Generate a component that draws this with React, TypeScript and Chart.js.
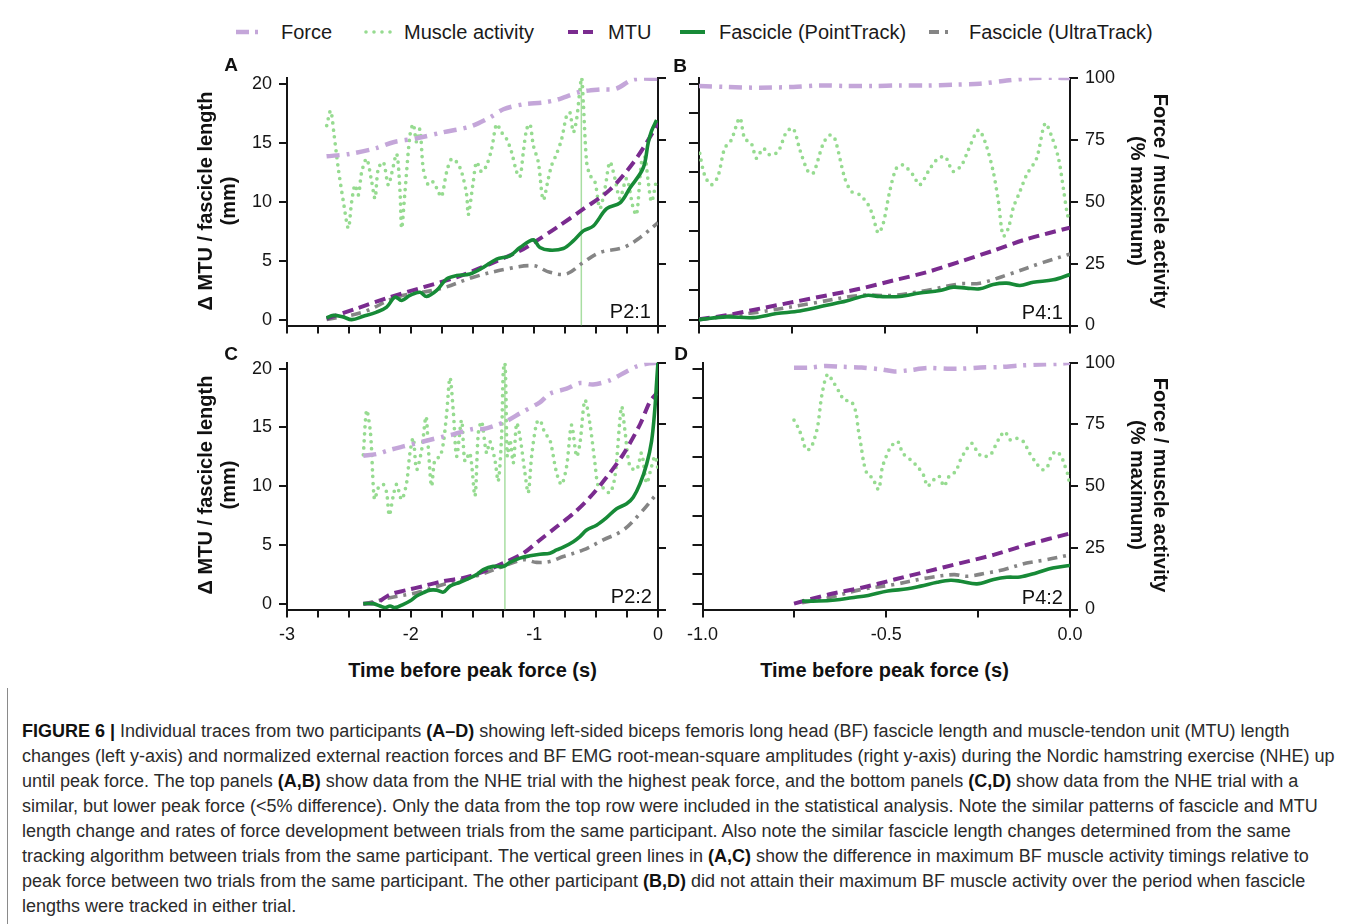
import React, { useEffect, useRef } from 'react';
import { Chart, registerables } from 'chart.js';
Chart.register(...registerables);

const FONT = "'Liberation Sans', Arial, Helvetica, sans-serif";

// ---------- Axis ticks ----------
const X_TICKS_AC = [-3, -2.75, -2.5, -2.25, -2, -1.75, -1.5, -1.25, -1, -0.75, -0.5, -0.25, 0];
const X_LABELS_AC = ['-3', '', '', '', '-2', '', '', '', '-1', '', '', '', '0'];
const X_TICKS_BD = [-1, -0.75, -0.5, -0.25, 0];
const X_LABELS_BD = ['-1.0', '', '-0.5', '', '0.0'];
const Y_MM_TICKS = [0, 5, 10, 15, 20];
const Y_MM_LABELS = ['0', '5', '10', '15', '20'];
const Y_MM_MINOR_TICKS = [0, 2.5, 5, 7.5, 10, 12.5, 15, 17.5, 20];
const Y_PCT_TICKS = [0, 25, 50, 75, 100];
const Y_PCT_LABELS = ['0', '25', '50', '75', '100'];

// ---------- Panel A (P2:1) ----------
const A_FORCE_T = [-2.68, -2.49, -2.28, -2.14, -1.95, -1.74, -1.52, -1.36, -1.25, -1.09, -0.93, -0.82, -0.63, -0.47, -0.34, -0.2, 0];
const A_FORCE = [68.3, 69.3, 71.6, 74.0, 75.6, 78.0, 80.3, 84.0, 87.3, 89.3, 90.0, 91.1, 94.3, 95.3, 95.6, 99.3, 99.6];
const A_EMG_T = [-2.679, -2.647, -2.62, -2.585, -2.544, -2.504, -2.477, -2.45, -2.423, -2.396, -2.356, -2.315, -2.288, -2.262, -2.221, -2.181, -2.154, -2.113, -2.086, -2.073, -2.046, -2.006, -1.979, -1.952, -1.925, -1.898, -1.857, -1.817, -1.777, -1.75, -1.709, -1.669, -1.628, -1.588, -1.547, -1.534, -1.494, -1.467, -1.426, -1.386, -1.345, -1.305, -1.265, -1.224, -1.184, -1.143, -1.116, -1.089, -1.062, -1.035, -1.008, -0.968, -0.928, -0.887, -0.86, -0.82, -0.779, -0.739, -0.712, -0.685, -0.658, -0.618, -0.604, -0.577, -0.55, -0.51, -0.47, -0.429, -0.389, -0.348, -0.308, -0.254, -0.2, -0.173, -0.133, -0.106, -0.079, -0.052, -0.011];
const A_EMG = [80.7, 86.7, 77.3, 63.3, 50.0, 39.3, 50.0, 56.7, 52.7, 62.0, 67.3, 58.0, 51.3, 63.3, 66.0, 56.7, 61.3, 69.3, 54.0, 39.3, 54.0, 76.7, 81.3, 74.0, 79.3, 63.3, 56.7, 58.0, 54.0, 52.0, 62.0, 67.3, 66.0, 62.0, 52.7, 44.7, 58.0, 66.0, 62.0, 64.7, 71.3, 81.3, 78.0, 75.3, 70.0, 62.0, 60.0, 70.0, 79.3, 81.3, 72.7, 66.0, 50.7, 59.3, 64.7, 69.3, 75.3, 84.7, 86.0, 78.0, 83.3, 100, 90.0, 66.0, 60.7, 58.0, 47.3, 55.3, 66.0, 59.3, 51.3, 59.3, 47.3, 44.7, 66.0, 68.0, 58.0, 50.0, 59.3];
const A_MTU_T = [-2.68, -2.44, -2.17, -1.9, -1.63, -1.36, -1.09, -0.98, -0.82, -0.6, -0.39, -0.2, -0.04, 0];
const A_MTU = [0.08, 0.93, 1.9, 2.74, 3.59, 4.71, 5.97, 6.7, 7.8, 9.4, 11.0, 13.3, 15.9, 16.7];
const A_PT_T = [-2.68, -2.625, -2.545, -2.477, -2.383, -2.275, -2.194, -2.127, -2.073, -2.006, -1.925, -1.871, -1.79, -1.709, -1.628, -1.521, -1.413, -1.305, -1.197, -1.116, -1.008, -0.955, -0.874, -0.766, -0.685, -0.604, -0.523, -0.415, -0.307, -0.227, -0.12, -0.079, -0.052, -0.011];
const A_PT = [0.14, 0.36, 0.22, 0.0, 0.28, 0.64, 1.06, 1.9, 1.62, 2.05, 2.32, 1.96, 2.47, 3.45, 3.73, 3.87, 4.43, 5.13, 5.41, 6.11, 6.76, 6.11, 5.89, 6.03, 6.67, 7.52, 7.94, 9.4, 9.9, 11.16, 12.85, 15.0, 16.0, 16.92];
const A_UT_T = [-2.68, -2.383, -2.113, -1.763, -1.494, -1.224, -1.008, -0.874, -0.739, -0.604, -0.47, -0.281, -0.146, 0];
const A_UT = [0, 0.64, 1.9, 2.61, 3.59, 4.29, 4.57, 4.01, 3.87, 4.85, 5.69, 6.11, 6.95, 8.22];
const A_EMG_MAX_T = -0.62;

// ---------- Panel B (P4:1) ----------
const B_FORCE_T = [-1, -0.926, -0.836, -0.746, -0.674, -0.603, -0.531, -0.459, -0.387, -0.315, -0.243, -0.171, -0.099, -0.045, 0];
const B_FORCE = [96.7, 96.3, 96.0, 96.3, 96.9, 96.7, 96.7, 96.9, 96.9, 97.2, 97.6, 98.9, 99.9, 100, 99.9];
const B_EMG_T = [-0.998, -0.985, -0.967, -0.949, -0.931, -0.913, -0.89, -0.877, -0.859, -0.845, -0.827, -0.809, -0.787, -0.764, -0.746, -0.728, -0.706, -0.692, -0.665, -0.647, -0.634, -0.607, -0.589, -0.567, -0.544, -0.531, -0.517, -0.504, -0.486, -0.468, -0.45, -0.423, -0.405, -0.382, -0.36, -0.337, -0.315, -0.292, -0.274, -0.247, -0.229, -0.207, -0.193, -0.18, -0.166, -0.153, -0.135, -0.117, -0.09, -0.067, -0.049, -0.031, -0.018, -0.007, 0];
const B_EMG = [69.5, 60.8, 56.8, 60.2, 71.5, 74.9, 83.8, 75.5, 73.5, 67.5, 71.5, 68.9, 70.2, 78.2, 79.5, 70.9, 62.2, 61.5, 73.5, 76.9, 75.5, 59.5, 54.1, 52.8, 48.8, 44.1, 37.4, 40.8, 54.1, 63.5, 64.8, 60.8, 56.8, 62.2, 66.8, 68.2, 62.2, 64.8, 70.9, 78.9, 74.2, 62.2, 50.1, 36.1, 39.4, 47.5, 54.1, 60.8, 67.5, 81.6, 76.2, 67.5, 55.5, 44.8, 42.1];
const B_MTU_T = [-1, -0.926, -0.836, -0.746, -0.656, -0.567, -0.477, -0.387, -0.297, -0.207, -0.117, 0];
const B_MTU = [0.03, 0.37, 0.93, 1.49, 2.05, 2.61, 3.31, 4.01, 4.91, 5.84, 6.82, 7.8];
const B_PT_T = [-1, -0.926, -0.854, -0.791, -0.728, -0.656, -0.603, -0.549, -0.513, -0.459, -0.405, -0.351, -0.315, -0.279, -0.243, -0.207, -0.171, -0.135, -0.099, -0.045, 0];
const B_PT = [0.0, 0.23, 0.17, 0.51, 0.73, 1.21, 1.57, 2.05, 1.96, 1.96, 2.25, 2.47, 2.75, 2.67, 2.61, 2.98, 3.09, 2.89, 3.17, 3.37, 3.82];
const B_UT_T = [-1, -0.836, -0.701, -0.567, -0.477, -0.387, -0.297, -0.243, -0.162, -0.072, 0];
const B_UT = [0, 0.65, 1.35, 2.05, 2.05, 2.47, 3.03, 3.09, 3.87, 4.85, 5.56];

// ---------- Panel C (P2:2) ----------
const C_FORCE_T = [-2.383, -2.275, -2.167, -2.059, -1.898, -1.736, -1.655, -1.494, -1.413, -1.305, -1.224, -1.116, -0.955, -0.874, -0.739, -0.631, -0.524, -0.389, -0.254, -0.173, -0.092, 0];
const C_FORCE = [62.3, 63, 64.7, 66.1, 68.1, 70.1, 71, 73.2, 73.2, 74.8, 76.4, 79.5, 84, 87.5, 89.5, 91.8, 91.2, 92.9, 96.5, 98.5, 99.6, 100];
const C_EMG_T = [-2.383, -2.356, -2.329, -2.316, -2.308, -2.297, -2.289, -2.262, -2.221, -2.194, -2.173, -2.141, -2.114, -2.073, -2.033, -2.006, -1.979, -1.952, -1.911, -1.876, -1.857, -1.831, -1.804, -1.763, -1.736, -1.709, -1.682, -1.655, -1.628, -1.588, -1.561, -1.521, -1.48, -1.453, -1.426, -1.386, -1.359, -1.319, -1.292, -1.265, -1.251, -1.238, -1.23, -1.219, -1.197, -1.17, -1.143, -1.116, -1.076, -1.049, -1.022, -0.982, -0.955, -0.914, -0.874, -0.82, -0.78, -0.739, -0.699, -0.658, -0.631, -0.591, -0.551, -0.51, -0.483, -0.443, -0.389, -0.348, -0.295, -0.268, -0.227, -0.173, -0.133, -0.092, -0.052, -0.025, 0];
const C_EMG = [62.7, 80.8, 73.5, 64.8, 55.4, 46.0, 44.6, 49.3, 50.7, 47.3, 38.2, 46.0, 50.7, 44.6, 51.3, 63.4, 69.5, 56.7, 64.8, 78.2, 65.4, 50.0, 60.7, 62.1, 67.4, 79.5, 94.0, 80.2, 62.1, 76.8, 60.1, 63.4, 46.0, 71.5, 76.2, 63.4, 68.1, 60.7, 52.0, 70.1, 96.9, 100, 88.9, 62.1, 68.8, 59.4, 75.5, 70.1, 55.4, 47.3, 62.1, 75.5, 76.8, 71.5, 68.8, 55.4, 50.7, 58.0, 74.8, 62.1, 67.4, 84.9, 75.5, 59.4, 50.0, 49.3, 47.3, 54.0, 82.2, 72.8, 58.0, 56.7, 63.4, 51.3, 58.0, 62.1, 57.0];
const C_MTU_T = [-2.383, -2.275, -2.167, -2.032, -1.898, -1.736, -1.574, -1.44, -1.251, -1.089, -0.955, -0.82, -0.685, -0.55, -0.416, -0.281, -0.146, -0.065, -0.011];
const C_MTU = [0, 0.08, 0.78, 1.15, 1.49, 1.91, 2.19, 2.61, 3.45, 4.29, 5.42, 6.54, 7.66, 9.06, 10.75, 12.71, 15.24, 17.2, 17.9];
const C_PT_T = [-2.383, -2.302, -2.248, -2.208, -2.167, -2.127, -2.059, -2.006, -1.952, -1.898, -1.844, -1.79, -1.736, -1.682, -1.601, -1.52, -1.467, -1.413, -1.332, -1.251, -1.197, -1.116, -1.035, -0.955, -0.874, -0.82, -0.766, -0.685, -0.631, -0.577, -0.497, -0.416, -0.335, -0.254, -0.2, -0.146, -0.092, -0.052, -0.025, -0.011, 0];
const C_PT = [0, 0, -0.2, -0.34, -0.2, -0.34, -0.06, 0.22, 0.65, 0.93, 1.15, 1.15, 0.98, 1.49, 1.82, 2.19, 2.47, 2.89, 3.17, 3.17, 3.51, 3.87, 4.07, 4.21, 4.29, 4.57, 4.8, 5.27, 5.7, 6.26, 6.68, 7.32, 8.08, 8.5, 9.06, 10.19, 11.87, 13.83, 16.64, 18.88, 20.57];
const C_UT_T = [-2.383, -2.167, -1.952, -1.736, -1.494, -1.251, -1.089, -0.982, -0.874, -0.766, -0.604, -0.443, -0.281, -0.146, 0];
const C_UT = [-0.06, 0.5, 0.93, 1.63, 2.27, 3.17, 3.73, 3.51, 3.59, 4.01, 4.57, 5.42, 6.26, 7.66, 9.48];
const C_EMG_MAX_T = -1.238;

// ---------- Panel D (P4:2) ----------
const D_FORCE_T = [-0.751, -0.711, -0.666, -0.621, -0.567, -0.513, -0.478, -0.442, -0.388, -0.334, -0.298, -0.244, -0.19, -0.136, -0.083, -0.029, 0];
const D_FORCE = [98.0, 98.0, 98.7, 98.4, 98.1, 97.3, 96.5, 96.9, 97.9, 97.6, 97.6, 98.1, 98.3, 98.9, 99.3, 99.6, 100];
const D_EMG_T = [-0.751, -0.738, -0.727, -0.718, -0.706, -0.695, -0.686, -0.675, -0.66, -0.644, -0.628, -0.614, -0.596, -0.583, -0.576, -0.569, -0.561, -0.551, -0.538, -0.521, -0.511, -0.5, -0.487, -0.469, -0.455, -0.434, -0.413, -0.397, -0.388, -0.37, -0.356, -0.343, -0.329, -0.311, -0.298, -0.285, -0.267, -0.253, -0.24, -0.217, -0.204, -0.19, -0.177, -0.163, -0.145, -0.127, -0.11, -0.092, -0.075, -0.063, -0.051, -0.038, -0.024, -0.015, -0.006, 0];
const D_EMG = [76.8, 73.2, 68.8, 64.7, 65.4, 69.4, 74.8, 87.1, 95.3, 92.2, 88.2, 84.9, 84.5, 80.2, 72.8, 66.8, 59.4, 54.7, 53.4, 48.7, 57.4, 62.1, 66.1, 68.1, 63.4, 60.7, 57.6, 54.0, 50.0, 52.7, 54.0, 50.0, 54.0, 56.0, 60.7, 64.1, 67.4, 64.1, 62.1, 62.7, 66.1, 70.1, 72.1, 68.8, 69.4, 68.1, 63.4, 59.4, 56.7, 57.4, 62.1, 64.1, 62.1, 58.7, 54.7, 50.0];
const D_MTU_T = [-0.751, -0.657, -0.567, -0.478, -0.388, -0.298, -0.208, -0.118, 0];
const D_MTU = [0.0, 0.78, 1.35, 2.05, 2.75, 3.45, 4.15, 5.0, 5.98];
const D_PT_T = [-0.729, -0.684, -0.639, -0.594, -0.549, -0.496, -0.442, -0.406, -0.361, -0.325, -0.298, -0.253, -0.208, -0.172, -0.136, -0.092, -0.047, 0];
const D_PT = [0.22, 0.22, 0.31, 0.5, 0.7, 1.07, 1.26, 1.49, 1.82, 1.99, 1.91, 1.68, 2.05, 2.24, 2.27, 2.61, 3.03, 3.25];
const D_UT_T = [-0.729, -0.657, -0.567, -0.478, -0.388, -0.316, -0.28, -0.226, -0.181, -0.118, -0.065, 0];
const D_UT = [0.08, 0.5, 1.21, 1.63, 2.19, 2.47, 2.33, 2.61, 2.89, 3.45, 3.73, 4.15];

// ---------- Text ----------
const LEGEND_ITEMS = ['Force', 'Muscle activity', 'MTU', 'Fascicle (PointTrack)', 'Fascicle (UltraTrack)'];
const X_TITLE = 'Time before peak force (s)';
const Y_LEFT_TITLE = ['Δ MTU / fascicle length', '(mm)'];
const Y_RIGHT_TITLE = ['Force / muscle activity', '(% maximum)'];
const CAPTION_LINES = [
  '**FIGURE 6 |** Individual traces from two participants **(A–D)** showing left-sided biceps femoris long head (BF) fascicle length and muscle-tendon unit (MTU) length',
  'changes (left y-axis) and normalized external reaction forces and BF EMG root-mean-square amplitudes (right y-axis) during the Nordic hamstring exercise (NHE) up',
  'until peak force. The top panels **(A,B)** show data from the NHE trial with the highest peak force, and the bottom panels **(C,D)** show data from the NHE trial with a',
  'similar, but lower peak force (<5% difference). Only the data from the top row were included in the statistical analysis. Note the similar patterns of fascicle and MTU',
  'length change and rates of force development between trials from the same participant. Also note the similar fascicle length changes determined from the same',
  'tracking algorithm between trials from the same participant. The vertical green lines in **(A,C)** show the difference in maximum BF muscle activity timings relative to',
  'peak force between two trials from the same participant. The other participant **(B,D)** did not attain their maximum BF muscle activity over the period when fascicle',
  'lengths were tracked in either trial.',
];

// ---------- Styles ----------
const COL_FORCE = '#c4a6d9';
const COL_EMG = '#96db90';
const COL_MTU = '#7a2b8f';
const COL_PT = '#178a37';
const COL_UT = '#858585';
const COL_VLINE = '#a8dea2';
const AXIS = '#151515';

type Pt = { x: number; y: number };
const zip = (t: number[], v: number[]): Pt[] => t.map((x, i) => ({ x, y: v[i] }));
const labelFor = (ticks: number[], labels: string[], v: number) => {
  const i = ticks.findIndex((t) => Math.abs(t - v) < 1e-9);
  return i >= 0 ? labels[i] : '';
};

interface Panel {
  key: string;
  left: number; top: number; width: number; height: number;
  leftW: number; rightW: number; padTop: number; xH: number;
  xMin: number; xMax: number; xTicks: number[]; xLabels: string[] | null;
  yLTicks: number[]; yLLabels: string[] | null; yLTickLen: number;
  yRLabels: string[] | null;
  force: Pt[]; emg: Pt[]; mtu: Pt[]; pt: Pt[]; ut: Pt[]; vline: number | null;
}

const PANELS: Panel[] = [
  {
    key: 'A', left: 235, top: 60, width: 445, height: 285, leftW: 52, rightW: 22, padTop: 15.5, xH: 19.5,
    xMin: -3, xMax: 0, xTicks: X_TICKS_AC, xLabels: null, yLTicks: Y_MM_TICKS, yLLabels: Y_MM_LABELS, yLTickLen: 8, yRLabels: null,
    force: zip(A_FORCE_T, A_FORCE), emg: zip(A_EMG_T, A_EMG), mtu: zip(A_MTU_T, A_MTU), pt: zip(A_PT_T, A_PT), ut: zip(A_UT_T, A_UT), vline: A_EMG_MAX_T,
  },
  {
    key: 'B', left: 680, top: 60, width: 450, height: 285, leftW: 19, rightW: 60, padTop: 15.5, xH: 19.5,
    xMin: -1, xMax: 0, xTicks: X_TICKS_BD, xLabels: null, yLTicks: Y_MM_MINOR_TICKS, yLLabels: null, yLTickLen: 10, yRLabels: Y_PCT_LABELS,
    force: zip(B_FORCE_T, B_FORCE), emg: zip(B_EMG_T, B_EMG), mtu: zip(B_MTU_T, B_MTU), pt: zip(B_PT_T, B_PT), ut: zip(B_UT_T, B_UT), vline: null,
  },
  {
    key: 'C', left: 235, top: 345, width: 445, height: 305, leftW: 52, rightW: 22, padTop: 15.5, xH: 40.5,
    xMin: -3, xMax: 0, xTicks: X_TICKS_AC, xLabels: X_LABELS_AC, yLTicks: Y_MM_TICKS, yLLabels: Y_MM_LABELS, yLTickLen: 8, yRLabels: null,
    force: zip(C_FORCE_T, C_FORCE), emg: zip(C_EMG_T, C_EMG), mtu: zip(C_MTU_T, C_MTU), pt: zip(C_PT_T, C_PT), ut: zip(C_UT_T, C_UT), vline: C_EMG_MAX_T,
  },
  {
    key: 'D', left: 680, top: 345, width: 450, height: 305, leftW: 19, rightW: 60, padTop: 15.5, xH: 40.5,
    xMin: -1, xMax: 0, xTicks: X_TICKS_BD, xLabels: X_LABELS_BD, yLTicks: Y_MM_MINOR_TICKS, yLLabels: null, yLTickLen: 10, yRLabels: Y_PCT_LABELS,
    force: zip(D_FORCE_T, D_FORCE), emg: zip(D_EMG_T, D_EMG), mtu: zip(D_MTU_T, D_MTU), pt: zip(D_PT_T, D_PT), ut: zip(D_UT_T, D_UT), vline: null,
  },
];

function grid(tickLen: number) {
  return { display: true, drawOnChartArea: false, drawTicks: true, tickLength: tickLen, tickWidth: 2, tickColor: AXIS, color: AXIS, lineWidth: 2 };
}
const border = { display: true, color: AXIS, width: 2 };
const tickFont = { family: FONT, size: 18 };

function buildChart(canvas: HTMLCanvasElement, p: Panel) {
  const datasets: any[] = [
    { label: 'Fascicle (PointTrack)', data: p.pt, yAxisID: 'yL', borderColor: COL_PT, borderWidth: 3.6, tension: 0.35, order: 1 },
    { label: 'MTU', data: p.mtu, yAxisID: 'yL', borderColor: COL_MTU, borderWidth: 4, borderDash: [11, 6], tension: 0.3, order: 2 },
    { label: 'Fascicle (UltraTrack)', data: p.ut, yAxisID: 'yL', borderColor: COL_UT, borderWidth: 3.6, borderDash: [10, 6, 3, 6], tension: 0.35, order: 3 },
    { label: 'Force', data: p.force, yAxisID: 'yR', borderColor: COL_FORCE, borderWidth: 4.5, borderDash: [13, 7, 3, 7], tension: 0.3, order: 4 },
    { label: 'Muscle activity', data: p.emg, yAxisID: 'yR', borderColor: COL_EMG, borderWidth: 3.7, borderDash: [0, 7], borderCapStyle: 'round', tension: 0.3, order: 5 },
  ];
  if (p.vline !== null) {
    datasets.push({ label: 'max EMG', data: [{ x: p.vline, y: 0 }, { x: p.vline, y: 100 }], yAxisID: 'yR', borderColor: COL_VLINE, borderWidth: 1.5, order: 6 });
  }
  return new Chart(canvas, {
    type: 'line',
    data: { datasets },
    options: {
      animation: false,
      responsive: false,
      maintainAspectRatio: false,
      layout: { padding: { top: p.padTop, left: 0, right: 0, bottom: 0 } },
      parsing: false as any,
      normalized: true,
      elements: { point: { radius: 0, hoverRadius: 0 }, line: { fill: false } },
      plugins: { legend: { display: false }, tooltip: { enabled: false } },
      scales: {
        x: {
          type: 'linear', position: 'bottom', min: p.xMin, max: p.xMax,
          grid: grid(8), border,
          afterBuildTicks: (s: any) => { s.ticks = p.xTicks.map((v) => ({ value: v })); },
          ticks: {
            color: AXIS, font: tickFont, autoSkip: false, maxRotation: 0, minRotation: 0, padding: 7,
            callback: (v: any) => (p.xLabels ? labelFor(p.xTicks, p.xLabels, Number(v)) : ''),
          },
          afterFit: (s: any) => { s.height = p.xH; },
        },
        yL: {
          type: 'linear', position: 'left', min: -0.5, max: 20.5,
          grid: grid(p.yLTickLen), border,
          afterBuildTicks: (s: any) => { s.ticks = p.yLTicks.map((v) => ({ value: v })); },
          ticks: {
            color: AXIS, font: tickFont, autoSkip: false, padding: 7,
            callback: (v: any) => (p.yLLabels ? labelFor(p.yLTicks, p.yLLabels, Number(v)) : ''),
          },
          afterFit: (s: any) => { s.width = p.leftW; },
        },
        yR: {
          type: 'linear', position: 'right', min: 0, max: 100,
          grid: grid(8), border,
          afterBuildTicks: (s: any) => { s.ticks = Y_PCT_TICKS.map((v) => ({ value: v })); },
          ticks: {
            color: AXIS, font: tickFont, autoSkip: false, padding: 7,
            callback: (v: any) => (p.yRLabels ? labelFor(Y_PCT_TICKS, p.yRLabels, Number(v)) : ''),
          },
          afterFit: (s: any) => { s.width = p.rightW; },
        },
      },
    } as any,
  });
}

function LegendSample({ kind }: { kind: number }) {
  const styles = [
    { c: COL_FORCE, w: 4.5, d: '13 6 3 6', cap: 'butt' },
    { c: COL_EMG, w: 3.6, d: '0 8', cap: 'round' },
    { c: COL_MTU, w: 4, d: '10 5', cap: 'butt' },
    { c: COL_PT, w: 4, d: '', cap: 'butt' },
    { c: COL_UT, w: 4, d: '10 6 3 6', cap: 'butt' },
  ][kind];
  return (
    <svg width={28} height={10} style={{ display: 'block' }}>
      <line x1={2} y1={5} x2={27} y2={5} stroke={styles.c} strokeWidth={styles.w}
        strokeDasharray={styles.d || undefined} strokeLinecap={styles.cap as any} />
    </svg>
  );
}

function renderCaptionLine(s: string) {
  const parts = s.split('**');
  return parts.map((t, i) => (i % 2 === 1 ? <b key={i} style={{ fontWeight: 700, color: '#111' }}>{t}</b> : <span key={i}>{t}</span>));
}

export default function App() {
  const refs = useRef<(HTMLCanvasElement | null)[]>([]);
  useEffect(() => {
    const charts = PANELS.map((p, i) => buildChart(refs.current[i] as HTMLCanvasElement, p));
    return () => charts.forEach((c) => c.destroy());
  }, []);

  const legendPos = [
    { s: 234, t: 281 },
    { s: 364, t: 404 },
    { s: 566, t: 608 },
    { s: 678, t: 719 },
    { s: 927, t: 969 },
  ];
  const panelLetters = [
    { t: 'A', x: 231, y: 65 }, { t: 'B', x: 680, y: 66 }, { t: 'C', x: 231, y: 354 }, { t: 'D', x: 681, y: 354 },
  ];
  const pLabels = [
    { t: 'P2:1', r: 651, y: 311 }, { t: 'P4:1', r: 1063, y: 312 }, { t: 'P2:2', r: 652, y: 596 }, { t: 'P4:2', r: 1063, y: 597 },
  ];
  const abs: React.CSSProperties = { position: 'absolute', fontFamily: FONT, color: '#111', whiteSpace: 'nowrap' };

  return (
    <div style={{ position: 'absolute', left: 0, top: 0, width: 1355, height: 924, background: '#fff', overflow: 'hidden' }}>
      {/* legend */}
      {LEGEND_ITEMS.map((name, i) => (
        <React.Fragment key={name}>
          <div style={{ position: 'absolute', left: legendPos[i].s, top: 27 }}><LegendSample kind={i} /></div>
          <div style={{ ...abs, left: legendPos[i].t, top: 32, fontSize: 20, transform: 'translateY(-50%)', lineHeight: '24px', color: '#1a1a1a' }}>{name}</div>
        </React.Fragment>
      ))}

      {PANELS.map((p, i) => (
        <canvas key={p.key} ref={(el) => { refs.current[i] = el; }} width={p.width} height={p.height}
          style={{ position: 'absolute', left: p.left, top: p.top, width: p.width, height: p.height }} />
      ))}

      {panelLetters.map((l) => (
        <div key={l.t} style={{ ...abs, left: l.x, top: l.y, fontSize: 19, fontWeight: 700, transform: 'translate(-50%,-50%)', lineHeight: '20px' }}>{l.t}</div>
      ))}
      {pLabels.map((l) => (
        <div key={l.t} style={{ ...abs, left: l.r, top: l.y, fontSize: 20, transform: 'translate(-100%,-50%)', lineHeight: '22px' }}>{l.t}</div>
      ))}

      {/* x titles */}
      {[472.5, 884.5].map((cx) => (
        <div key={cx} style={{ ...abs, left: cx, top: 670, fontSize: 20, fontWeight: 700, transform: 'translate(-50%,-50%)', lineHeight: '24px' }}>{X_TITLE}</div>
      ))}
      {/* left y titles */}
      {[200.5, 485].map((cy) => (
        <div key={'l' + cy} style={{ ...abs, left: 216.5, top: cy, fontSize: 20, fontWeight: 700, textAlign: 'center', lineHeight: '23px', transform: 'translate(-50%,-50%) rotate(-90deg)' }}>
          <div>{Y_LEFT_TITLE[0]}</div><div>{Y_LEFT_TITLE[1]}</div>
        </div>
      ))}
      {/* right y titles */}
      {[200.5, 485].map((cy) => (
        <div key={'r' + cy} style={{ ...abs, left: 1148.5, top: cy, fontSize: 20, fontWeight: 700, textAlign: 'center', lineHeight: '23px', transform: 'translate(-50%,-50%) rotate(90deg)' }}>
          <div>{Y_RIGHT_TITLE[0]}</div><div>{Y_RIGHT_TITLE[1]}</div>
        </div>
      ))}

      {/* caption */}
      <div style={{ position: 'absolute', left: 7, top: 688, width: 1, height: 236, background: '#8a8a8a' }} />
      <div style={{ position: 'absolute', left: 22, top: 718.5, fontFamily: FONT, fontSize: 18, lineHeight: '25px', color: '#2b2b2b', whiteSpace: 'nowrap' }}>
        {CAPTION_LINES.map((l, i) => (<div key={i}>{renderCaptionLine(l)}</div>))}
      </div>
    </div>
  );
}
